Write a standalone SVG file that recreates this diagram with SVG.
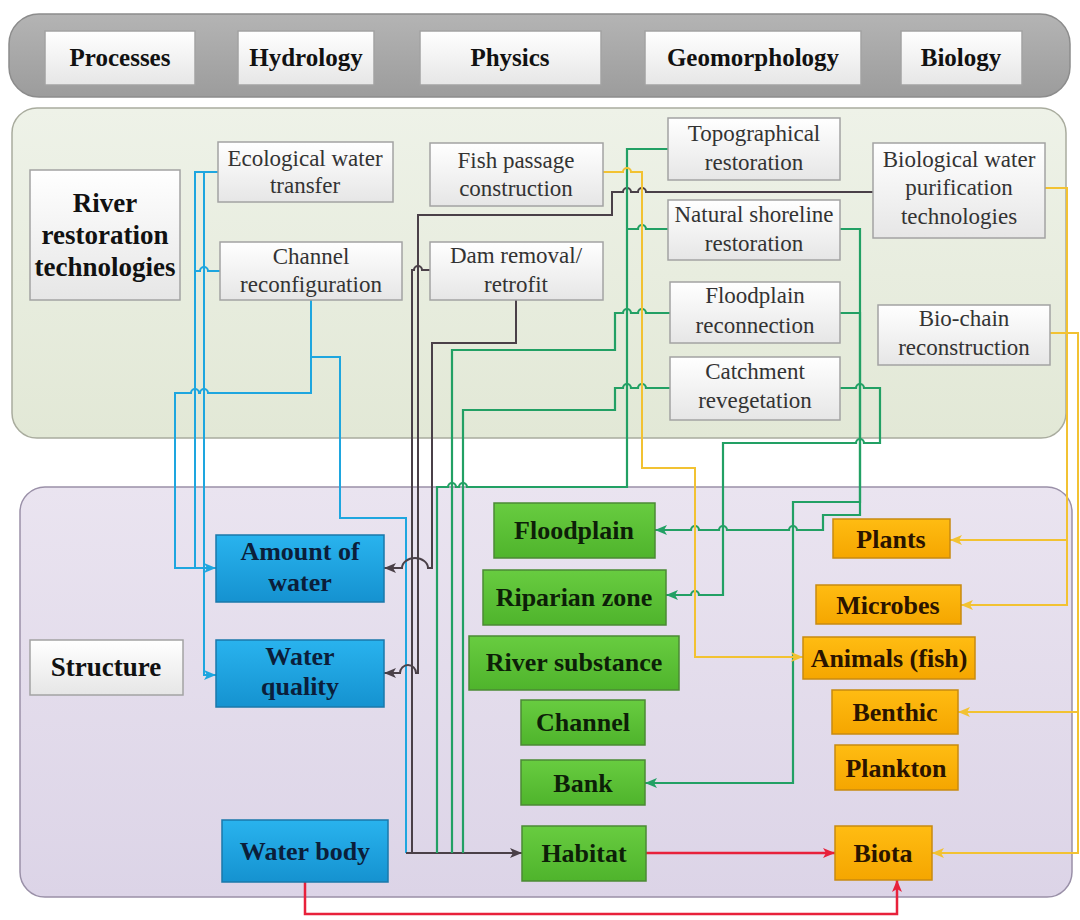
<svg xmlns="http://www.w3.org/2000/svg" width="1080" height="920" viewBox="0 0 1080 920">
<defs>
<linearGradient id="gW" x1="0" y1="0" x2="0" y2="1"><stop offset="0" stop-color="#ffffff"/><stop offset="1" stop-color="#e6e6e6"/></linearGradient>
<linearGradient id="gB" x1="0" y1="0" x2="0" y2="1"><stop offset="0" stop-color="#29b3ee"/><stop offset="1" stop-color="#1592d0"/></linearGradient>
<linearGradient id="gG" x1="0" y1="0" x2="0" y2="1"><stop offset="0" stop-color="#68cc40"/><stop offset="1" stop-color="#4fb42c"/></linearGradient>
<linearGradient id="gO" x1="0" y1="0" x2="0" y2="1"><stop offset="0" stop-color="#ffbc12"/><stop offset="1" stop-color="#f5a600"/></linearGradient>
<linearGradient id="gTop" x1="0" y1="0" x2="0" y2="1"><stop offset="0" stop-color="#b4b4b4"/><stop offset="1" stop-color="#9c9c9c"/></linearGradient>
<linearGradient id="gUp" x1="0" y1="0" x2="0" y2="1"><stop offset="0" stop-color="#eef2e8"/><stop offset="1" stop-color="#e2e8d6"/></linearGradient>
<linearGradient id="gLo" x1="0" y1="0" x2="0" y2="1"><stop offset="0" stop-color="#eae4f0"/><stop offset="1" stop-color="#dcd4e7"/></linearGradient>
<marker id="aB" viewBox="0 0 12 10" refX="12" refY="5" markerWidth="12" markerHeight="10" markerUnits="userSpaceOnUse" orient="auto"><path d="M0,0 L12,5 L0,10 L3,5 z" fill="#1ea6df"/></marker>
<marker id="aD" viewBox="0 0 12 10" refX="12" refY="5" markerWidth="12" markerHeight="10" markerUnits="userSpaceOnUse" orient="auto"><path d="M0,0 L12,5 L0,10 L3,5 z" fill="#4a4048"/></marker>
<marker id="aG" viewBox="0 0 12 10" refX="12" refY="5" markerWidth="12" markerHeight="10" markerUnits="userSpaceOnUse" orient="auto"><path d="M0,0 L12,5 L0,10 L3,5 z" fill="#22a064"/></marker>
<marker id="aY" viewBox="0 0 12 10" refX="12" refY="5" markerWidth="12" markerHeight="10" markerUnits="userSpaceOnUse" orient="auto"><path d="M0,0 L12,5 L0,10 L3,5 z" fill="#f2c232"/></marker>
<marker id="aR" viewBox="0 0 12 10" refX="12" refY="5" markerWidth="12" markerHeight="10" markerUnits="userSpaceOnUse" orient="auto"><path d="M0,0 L12,5 L0,10 L3,5 z" fill="#e8213b"/></marker>
</defs>
<style>
text{font-family:"Liberation Serif","Times New Roman",serif;text-anchor:middle}
.hd{font-size:25px;font-weight:bold;fill:#111}
.tn{font-size:23px;fill:#333}
.wb{fill:url(#gW);stroke:#a3a3a3;stroke-width:1.5}
.bb{fill:url(#gB);stroke:#1a78aa;stroke-width:1.5}
.gb{fill:url(#gG);stroke:#4b8a34;stroke-width:1.5}
.ob{fill:url(#gO);stroke:#c88a10;stroke-width:1.5}
.lb{font-size:26px;font-weight:bold}
.rt{font-size:27px;font-weight:bold;fill:#111}
.bt{fill:#0b1e3a}
.gt{fill:#0d1f08}
.ot{fill:#2a1400}
.c{fill:none}
.cb{stroke:#1ea6df;stroke-width:2}
.cd{stroke:#4a4048;stroke-width:2}
.cg{stroke:#22a064;stroke-width:2.2}
.cy{stroke:#f2c232;stroke-width:2}
.cr{stroke:#e8213b;stroke-width:2.5}
</style>
<rect width="1080" height="920" fill="#ffffff"/>

<g id="process-bar">
<rect x="9" y="14" width="1061" height="83" rx="30" fill="url(#gTop)" stroke="#8c8c8c" stroke-width="1.5"/>
<g id="processes"><rect class="wb" x="45" y="31" width="150" height="54"/><text class="hd" x="120" y="66">Processes</text></g>
<g id="hydrology"><rect class="wb" x="238" y="31" width="136" height="54"/><text class="hd" x="306" y="66">Hydrology</text></g>
<g id="physics"><rect class="wb" x="420" y="31" width="181" height="54"/><text class="hd" x="510" y="66">Physics</text></g>
<g id="geomorphology"><rect class="wb" x="645" y="31" width="216" height="54"/><text class="hd" x="753" y="66">Geomorphology</text></g>
<g id="biology"><rect class="wb" x="901" y="31" width="121" height="54"/><text class="hd" x="961" y="66">Biology</text></g>
</g>

<g id="restoration-panel">
<rect x="12" y="108" width="1054" height="330" rx="25" fill="url(#gUp)" stroke="#a9ac9e" stroke-width="1.5"/>
</g>
<g id="structure-panel">
<rect x="20" y="487" width="1052" height="410" rx="25" fill="url(#gLo)" stroke="#9a90a8" stroke-width="1.5"/>
</g>

<g id="connectors">
<!-- blue: hydrology -->
<path class="c cb" d="M218,172 H195 V568 H216" marker-end="url(#aB)"/>
<path class="c cb" d="M204,172 V675 H216" marker-end="url(#aB)"/>
<path class="c cb" d="M220,271 H208 a4,4 0 0 0 -8,0 H195"/>
<path class="c cb" d="M311,300 V393 H208 a4,4 0 0 0 -8,0 H199 a4,4 0 0 0 -8,0 H175 V568 H195"/>
<path class="c cb" d="M311,357 H340 V518 H406 V853"/>
<!-- dark: physics -->
<path class="c cd" d="M873,192 H646 a4,4 0 0 0 -8,0 H631 a4,4 0 0 0 -8,0 H612 V215 H418 V673 H416 a8,8 0 0 0 -16,0 H384" marker-end="url(#aD)"/>
<path class="c cd" d="M430,270 H422 a4,4 0 0 0 -8,0 H412 V853"/>
<path class="c cd" d="M516,300 V343 H432 V568 H428 a13,10 0 0 0 -26,0 H384" marker-end="url(#aD)"/>
<path class="c cd" d="M406,853 H522" marker-end="url(#aD)"/>
<!-- green: geomorphology -->
<path class="c cg" d="M668,149 H627 V487 H467 a4,4 0 0 0 -8,0 H456 a4,4 0 0 0 -8,0 H437 V853"/>
<path class="c cg" d="M668,229 H646 a4,4 0 0 0 -8,0 H627"/>
<path class="c cg" d="M670,313 H646 a4,4 0 0 0 -8,0 H631 a4,4 0 0 0 -8,0 H615 V350 H452 V853"/>
<path class="c cg" d="M670,388 H646 a4,4 0 0 0 -8,0 H631 a4,4 0 0 0 -8,0 H615 V410 H463 V853"/>
<path class="c cg" d="M840,229 H860 V502 H793 V783 H645" marker-end="url(#aG)"/>
<path class="c cg" d="M840,313 H860 V515 H823 V530 H797 a4,4 0 0 0 -8,0 H727 a4,4 0 0 0 -8,0 H699 a4,4 0 0 0 -8,0 H655" marker-end="url(#aG)"/>
<path class="c cg" d="M840,388 H856 a4,4 0 0 1 8,0 H880 V443 H864 a4,4 0 0 0 -8,0 H723 V595 H699 a4,4 0 0 0 -8,0 H666" marker-end="url(#aG)"/>
<!-- yellow: biology -->
<path class="c cy" d="M603,172 H623 a4,4 0 0 1 8,0 H642 V468 H695 V657 H803" marker-end="url(#aY)"/>
<path class="c cy" d="M1045,188 H1067 V605 H961" marker-end="url(#aY)"/>
<path class="c cy" d="M1067,540 H950" marker-end="url(#aY)"/>
<path class="c cy" d="M1050,333 H1078 V853 H932" marker-end="url(#aY)"/>
<path class="c cy" d="M1078,712 H958" marker-end="url(#aY)"/>
<!-- red -->
<path class="c cr" d="M646,853 H835" marker-end="url(#aR)"/>
<path class="c cr" d="M305,882 V914 H897 V880" marker-end="url(#aR)"/>
</g>

<g id="river-restoration-technologies"><rect class="wb" x="30" y="170" width="150" height="130"/>
<text class="rt" x="105" y="212">River</text>
<text class="rt" x="105" y="244">restoration</text>
<text class="rt" x="105" y="276">technologies</text></g>
<g id="ecological-water-transfer"><rect class="wb" x="218" y="142" width="175" height="60"/><text class="tn" x="305" y="166">Ecological water</text><text class="tn" x="305" y="193">transfer</text></g>
<g id="channel-reconfiguration"><rect class="wb" x="220" y="242" width="182" height="58"/><text class="tn" x="311" y="264">Channel</text><text class="tn" x="311" y="292">reconfiguration</text></g>
<g id="fish-passage-construction"><rect class="wb" x="430" y="143" width="173" height="63"/><text class="tn" x="516" y="168">Fish passage</text><text class="tn" x="516" y="196">construction</text></g>
<g id="dam-removal"><rect class="wb" x="430" y="242" width="173" height="58"/><text class="tn" x="516" y="263">Dam removal/</text><text class="tn" x="516" y="292">retrofit</text></g>
<g id="topographical-restoration"><rect class="wb" x="668" y="118" width="172" height="62"/><text class="tn" x="754" y="141">Topographical</text><text class="tn" x="754" y="170">restoration</text></g>
<g id="natural-shoreline-restoration"><rect class="wb" x="668" y="200" width="172" height="60"/><text class="tn" x="754" y="222">Natural shoreline</text><text class="tn" x="754" y="251">restoration</text></g>
<g id="floodplain-reconnection"><rect class="wb" x="670" y="282" width="170" height="61"/><text class="tn" x="755" y="303">Floodplain</text><text class="tn" x="755" y="333">reconnection</text></g>
<g id="catchment-revegetation"><rect class="wb" x="670" y="357" width="170" height="63"/><text class="tn" x="755" y="379">Catchment</text><text class="tn" x="755" y="408">revegetation</text></g>
<g id="biological-water-purification"><rect class="wb" x="873" y="143" width="172" height="95"/><text class="tn" x="959" y="167">Biological water</text><text class="tn" x="959" y="195">purification</text><text class="tn" x="959" y="224">technologies</text></g>
<g id="bio-chain-reconstruction"><rect class="wb" x="878" y="305" width="172" height="60"/><text class="tn" x="964" y="326">Bio-chain</text><text class="tn" x="964" y="355">reconstruction</text></g>

<g id="structure"><rect class="wb" x="30" y="640" width="153" height="55"/><text x="106" y="676" style="font-size:27px;font-weight:bold;fill:#111">Structure</text></g>
<g id="amount-of-water"><rect class="bb" x="216" y="535" width="168" height="67"/><text class="lb bt" x="300" y="560">Amount of</text><text class="lb bt" x="300" y="591">water</text></g>
<g id="water-quality"><rect class="bb" x="216" y="640" width="168" height="67"/><text class="lb bt" x="300" y="665">Water</text><text class="lb bt" x="300" y="695">quality</text></g>
<g id="water-body"><rect class="bb" x="222" y="820" width="166" height="62"/><text class="lb bt" x="305" y="860">Water body</text></g>
<g id="floodplain"><rect class="gb" x="494" y="503" width="161" height="55"/><text class="lb gt" x="574" y="539">Floodplain</text></g>
<g id="riparian-zone"><rect class="gb" x="483" y="570" width="183" height="55"/><text class="lb gt" x="574" y="606">Riparian zone</text></g>
<g id="river-substance"><rect class="gb" x="469" y="636" width="210" height="54"/><text class="lb gt" x="574" y="671">River substance</text></g>
<g id="channel"><rect class="gb" x="521" y="700" width="124" height="45"/><text class="lb gt" x="583" y="731">Channel</text></g>
<g id="bank"><rect class="gb" x="521" y="760" width="124" height="45"/><text class="lb gt" x="583" y="792">Bank</text></g>
<g id="habitat"><rect class="gb" x="522" y="826" width="124" height="55"/><text class="lb gt" x="584" y="862">Habitat</text></g>
<g id="plants"><rect class="ob" x="833" y="519" width="117" height="39"/><text class="lb ot" x="891" y="548">Plants</text></g>
<g id="microbes"><rect class="ob" x="816" y="585" width="145" height="39"/><text class="lb ot" x="888" y="614">Microbes</text></g>
<g id="animals-fish"><rect class="ob" x="803" y="637" width="172" height="42"/><text class="lb ot" x="889" y="667">Animals (fish)</text></g>
<g id="benthic"><rect class="ob" x="832" y="690" width="126" height="44"/><text class="lb ot" x="895" y="721">Benthic</text></g>
<g id="plankton"><rect class="ob" x="835" y="745" width="123" height="45"/><text class="lb ot" x="896" y="777">Plankton</text></g>
<g id="biota"><rect class="ob" x="835" y="826" width="97" height="54"/><text class="lb ot" x="883" y="862">Biota</text></g>
</svg>
